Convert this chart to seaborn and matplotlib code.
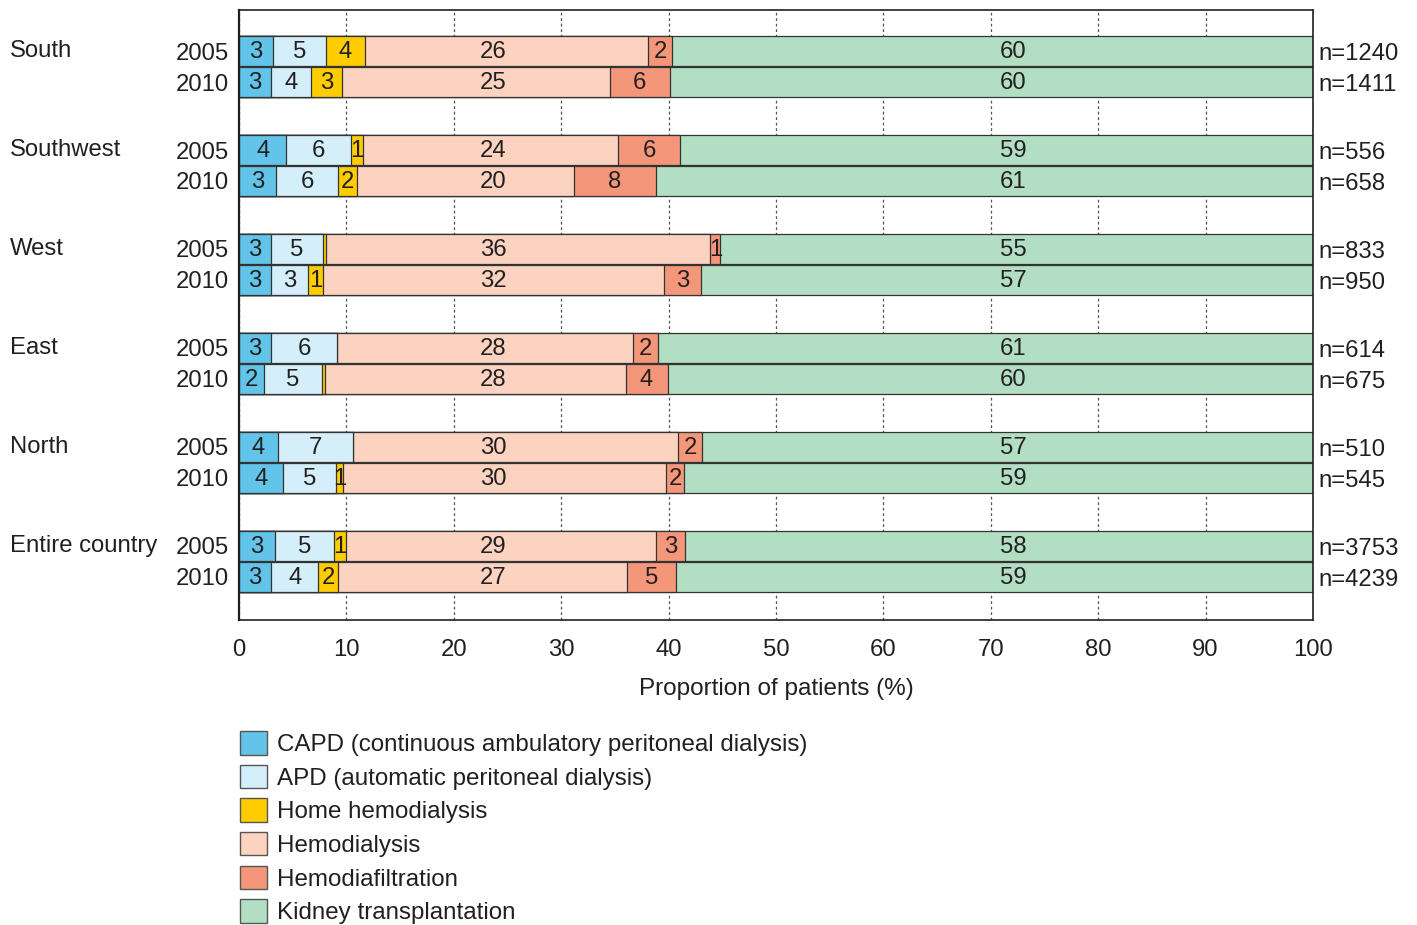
import matplotlib
matplotlib.use("Agg")
import matplotlib.pyplot as plt
from matplotlib.patches import Patch
from matplotlib.transforms import blended_transform_factory
import pandas as pd
import seaborn as sns


regions = ["South", "Southwest", "West", "East", "North", "Entire country"]
years = ["2005", "2010"]

# one value per row: South 2005, South 2010, Southwest 2005, ...
capd = [3.2, 3.0, 4.4, 3.45, 3.0, 3.0, 3.0, 2.3, 3.6, 4.1, 3.35, 3.0]
apd = [4.9, 3.7, 6.0, 5.8, 4.8, 3.4, 6.1, 5.45, 7.0, 4.9, 5.45, 4.4]
home_hd = [3.6, 2.9, 1.1, 1.7, 0.3, 1.45, 0.0, 0.25, 0.0, 0.7, 1.2, 1.8]
hd = [26.4, 24.9, 23.8, 20.2, 35.8, 31.7, 27.6, 28.0, 30.3, 30.1, 28.8, 26.9]
hdf = [2.2, 5.6, 5.8, 7.7, 0.9, 3.45, 2.3, 3.9, 2.2, 1.6, 2.75, 4.6]
transplant = [59.7, 59.9, 58.9, 61.15, 55.2, 57.0, 61.0, 60.1, 56.9, 58.6, 58.45, 59.3]
n_patients = [1240, 1411, 556, 658, 833, 950, 614, 675, 510, 545, 3753, 4239]

modalities = ["CAPD (continuous ambulatory peritoneal dialysis)",
              "APD (automatic peritoneal dialysis)",
              "Home hemodialysis",
              "Hemodialysis",
              "Hemodiafiltration",
              "Kidney transplantation"]
colors = ["#62C4E8", "#D4EEFA", "#FFCC00", "#FCD3C1", "#F49679", "#B2DFC3"]

sns.set_theme(style="white")
plt.rcParams["font.family"] = ["Liberation Sans", "DejaVu Sans"]
ink = "#231F20"
fs = 17.2

# the wide segments carry their labels in a fixed column, as in the original
fixed_label_x = {"Hemodialysis": 23.7, "Kidney transplantation": 72.1}

series = [capd, apd, home_hd, hd, hdf, transplant]
pos = [g * 3.2 + k for g in range(len(regions)) for k in range(len(years))]

rows = []
for i in range(len(pos)):
    cum = 0
    for m, s in zip(modalities, series):
        rows.append({"pos": pos[i], "modality": m, "value": s[i],
                     "left": cum, "cum": cum + s[i]})
        cum += s[i]
df = pd.DataFrame(rows)

fig = plt.figure(figsize=(14.17, 9.25), dpi=100)
ax = fig.add_axes([239 / 1417, 1 - 620 / 925, 1074 / 1417, 610 / 925])

# draw cumulative bars from the last modality back to the first so they stack
for m, c in reversed(list(zip(modalities, colors))):
    sub = df[df["modality"] == m]
    sns.barplot(data=sub, x="cum", y="pos", orient="y", native_scale=True,
                color=c, saturation=1, width=0.97, edgecolor="#333333",
                linewidth=0.9, errorbar=None, ax=ax, zorder=3)

# segment labels
for _, r in df.iterrows():
    if r["value"] >= 0.5:
        x = fixed_label_x.get(r["modality"], r["left"] + r["value"] / 2)
        ax.text(x, r["pos"] + 0.03, f"{r['value']:.0f}",
                ha="center", va="center", fontsize=fs, color=ink, zorder=5)

ax.set_xlim(0, 100)
ax.set_ylim(17 + 1.4, -1.33)
ax.set_xticks(range(0, 101, 10))
ax.set_yticks(pos, labels=years * len(regions))
ax.tick_params(axis="y", length=0, pad=7, labelsize=fs, labelcolor=ink)
ax.tick_params(axis="x", length=4, width=1, direction="out", color=ink,
               pad=10, labelsize=fs, labelcolor=ink)
ax.set_xlabel("Proportion of patients (%)", fontsize=fs + 0.3, color=ink, labelpad=12)
ax.set_ylabel("")

ax.set_axisbelow(True)
ax.xaxis.grid(True, linestyle=(0, (2.2, 2.2)), color="#555555", linewidth=0.9)
ax.yaxis.grid(False)
for side, sp in ax.spines.items():
    sp.set_visible(True)
    sp.set_color(ink)
    sp.set_linewidth(1.6 if side == "left" else 1.2)
    sp.set_zorder(6)

trans = blended_transform_factory(ax.transAxes, ax.transData)
for g, name in enumerate(regions):
    ax.text((10 - 239) / 1074, pos[2 * g], name, transform=trans,
            ha="left", va="center", fontsize=fs, color=ink)
for p, n in zip(pos, n_patients):
    ax.text((1318 - 239) / 1074, p + 0.1, f"n={n}", transform=trans,
            ha="left", va="center", fontsize=fs, color=ink, clip_on=False)

handles = [Patch(facecolor=c, edgecolor="#555555", linewidth=1.0) for c in colors]
fig.legend(handles, modalities, loc="upper left",
           bbox_to_anchor=(240 / 1417, 1 - 731 / 925), frameon=False,
           fontsize=fs + 0.2, handlelength=1.12, handleheight=1.12,
           handletextpad=0.4, labelspacing=0.36, borderpad=0, borderaxespad=0,
           labelcolor=ink)

fig.savefig("out.png", dpi=100)
